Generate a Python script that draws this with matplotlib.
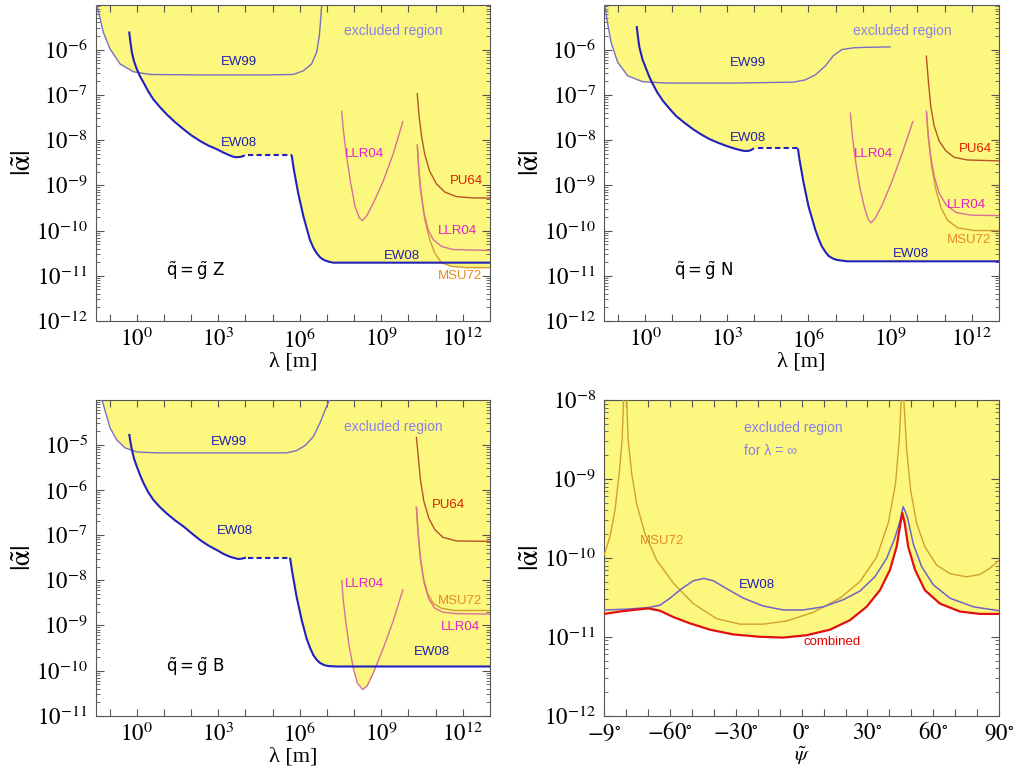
import numpy as np
import matplotlib
matplotlib.use("Agg")
import matplotlib.pyplot as plt
from matplotlib.ticker import FixedLocator, LogLocator, NullLocator, FuncFormatter, NullFormatter

plt.rcParams["mathtext.fontset"] = "stix"
plt.rcParams["font.family"] = ["Liberation Sans", "DejaVu Sans"]

# all curves stored as log10(lambda / m) and log10(|alpha|)

# ---- q = g Z ----
z_ew99_lx = [-1.50, -1.41, -1.23, -0.98, -0.61, -0.12, 0.49, 2.33, 4.78, 5.76, 6.13, 6.43, 6.62, 6.72, 6.78, 6.81]
z_ew99_la = [-4.95, -5.17, -5.62, -5.99, -6.32, -6.49, -6.55, -6.56, -6.56, -6.55, -6.47, -6.32, -6.06, -5.69, -5.25, -4.95]
z_ew08_lo_lx = [-0.28, -0.23, -0.18, -0.10, 0.00, 0.12, 0.25, 0.42, 0.61, 0.85, 1.10, 1.40, 1.72, 2.02, 2.33, 2.63, 2.94, 3.20, 3.43, 3.56, 3.68, 3.83, 3.98]
z_ew08_lo_la = [-5.60, -5.85, -6.06, -6.26, -6.43, -6.59, -6.73, -6.92, -7.10, -7.27, -7.43, -7.60, -7.76, -7.90, -8.02, -8.12, -8.20, -8.28, -8.34, -8.37, -8.38, -8.37, -8.34]
z_ew08_gap_lx = [4.10, 5.70]
z_ew08_gap_la = [-8.33, -8.33]
z_ew08_hi_lx = [5.70, 5.78, 5.94, 6.13, 6.37, 6.50, 6.62, 6.76, 6.92, 7.08, 7.23, 13.0]
z_ew08_hi_la = [-8.33, -8.65, -9.17, -9.68, -10.20, -10.38, -10.50, -10.60, -10.66, -10.69, -10.71, -10.71]
z_llr_bowl_lx = [7.54, 7.60, 7.72, 7.87, 8.03, 8.19, 8.30, 8.46, 8.70, 9.07, 9.44, 9.80]
z_llr_bowl_la = [-7.35, -7.76, -8.35, -8.94, -9.46, -9.72, -9.78, -9.68, -9.40, -8.91, -8.30, -7.58]
z_pu64_lx = [10.32, 10.39, 10.48, 10.60, 10.78, 11.03, 11.34, 11.76, 12.38, 13.0]
z_pu64_la = [-6.96, -7.47, -7.91, -8.32, -8.69, -8.97, -9.15, -9.25, -9.28, -9.28]
z_llr_lx = [10.32, 10.37, 10.44, 10.57, 10.72, 10.91, 11.21, 11.64, 13.0]
z_llr_la = [-8.09, -8.57, -9.09, -9.61, -9.98, -10.20, -10.35, -10.42, -10.44]
z_msu_lx = [10.33, 10.39, 10.48, 10.60, 10.78, 10.97, 11.21, 11.58, 12.13, 13.0]
z_msu_la = [-8.13, -8.72, -9.24, -9.76, -10.20, -10.50, -10.71, -10.79, -10.82, -10.82]

# ---- q = g N ----
n_ew99_lx = [-1.49, -1.41, -1.25, -1.01, -0.64, -0.09, 0.77, 3.23, 5.45, 5.88, 6.25, 6.62, 6.92, 7.23, 7.66, 8.15, 9.02]
n_ew99_la = [-4.95, -5.32, -5.84, -6.28, -6.58, -6.71, -6.74, -6.74, -6.72, -6.67, -6.56, -6.36, -6.13, -6.00, -5.96, -5.95, -5.94]
n_ew08_lo_lx = [-0.31, -0.26, -0.21, -0.10, 0.04, 0.16, 0.28, 0.45, 0.65, 0.90, 1.14, 1.45, 1.76, 2.07, 2.37, 2.68, 2.99, 3.24, 3.48, 3.64, 3.79, 3.90, 4.00]
n_ew08_lo_la = [-5.48, -5.74, -5.95, -6.21, -6.43, -6.61, -6.76, -6.95, -7.13, -7.31, -7.47, -7.62, -7.76, -7.88, -7.98, -8.06, -8.13, -8.18, -8.22, -8.24, -8.24, -8.22, -8.18]
n_ew08_gap_lx = [4.16, 5.61]
n_ew08_gap_la = [-8.18, -8.18]
n_ew08_hi_lx = [5.61, 5.67, 5.82, 6.00, 6.25, 6.37, 6.49, 6.62, 6.74, 6.90, 7.05, 7.42, 13.0]
n_ew08_hi_la = [-8.18, -8.43, -8.94, -9.46, -9.98, -10.18, -10.35, -10.47, -10.56, -10.62, -10.65, -10.68, -10.68]
n_llr_bowl_lx = [7.54, 7.60, 7.72, 7.88, 8.06, 8.20, 8.30, 8.46, 8.71, 9.07, 9.45, 9.84]
n_llr_bowl_la = [-7.39, -7.84, -8.43, -9.02, -9.50, -9.76, -9.83, -9.72, -9.43, -8.91, -8.28, -7.58]
n_pu64_lx = [10.33, 10.41, 10.49, 10.62, 10.80, 11.05, 11.35, 11.84, 13.0]
n_pu64_la = [-6.13, -6.73, -7.24, -7.69, -8.02, -8.24, -8.38, -8.44, -8.46]
n_llr_lx = [10.33, 10.39, 10.49, 10.62, 10.80, 11.05, 11.42, 11.96, 13.0]
n_llr_la = [-7.35, -7.84, -8.35, -8.80, -9.17, -9.43, -9.60, -9.66, -9.67]
n_msu_lx = [10.34, 10.41, 10.52, 10.68, 10.87, 11.11, 11.48, 12.09, 13.0]
n_msu_la = [-7.39, -7.98, -8.57, -9.09, -9.50, -9.77, -9.94, -10.00, -10.00]

# ---- q = g B ----
b_ew99_lx = [-1.29, -1.16, -0.98, -0.74, -0.43, 0.00, 0.74, 5.51, 5.88, 6.19, 6.50, 6.74, 6.96, 7.11]
b_ew99_la = [-3.98, -4.26, -4.63, -4.89, -5.07, -5.16, -5.18, -5.18, -5.13, -5.02, -4.82, -4.52, -4.19, -3.98]
b_ew08_lo_lx = [-0.28, -0.23, -0.18, -0.10, 0.00, 0.12, 0.25, 0.42, 0.61, 0.85, 1.10, 1.40, 1.72, 2.02, 2.33, 2.63, 2.94, 3.20, 3.43, 3.60, 3.74, 3.88, 4.02]
b_ew08_lo_la = [-4.76, -4.95, -5.11, -5.31, -5.48, -5.67, -5.85, -6.05, -6.22, -6.38, -6.52, -6.67, -6.81, -6.96, -7.11, -7.23, -7.33, -7.42, -7.48, -7.51, -7.53, -7.52, -7.50]
b_ew08_gap_lx = [4.10, 5.64]
b_ew08_gap_la = [-7.50, -7.50]
b_ew08_hi_lx = [5.64, 5.72, 5.88, 6.07, 6.25, 6.38, 6.50, 6.62, 6.74, 6.90, 7.05, 7.35, 13.0]
b_ew08_hi_la = [-7.50, -7.81, -8.36, -8.88, -9.29, -9.50, -9.66, -9.76, -9.83, -9.88, -9.90, -9.91, -9.91]
b_llr_bowl_lx = [7.54, 7.60, 7.70, 7.82, 7.97, 8.12, 8.31, 8.48, 8.70, 9.07, 9.44, 9.80]
b_llr_bowl_la = [-7.99, -8.44, -8.95, -9.47, -9.95, -10.28, -10.42, -10.34, -10.06, -9.51, -8.90, -8.20]
b_pu64_lx = [10.29, 10.36, 10.44, 10.57, 10.75, 10.97, 11.27, 11.76, 13.0]
b_pu64_la = [-4.82, -5.26, -5.78, -6.26, -6.63, -6.88, -7.05, -7.13, -7.14]
b_msu_lx = [10.29, 10.34, 10.42, 10.54, 10.70, 10.91, 11.21, 11.70, 13.0]
b_msu_la = [-6.37, -6.88, -7.40, -7.92, -8.29, -8.51, -8.62, -8.67, -8.67]
b_llr_lx = [10.29, 10.36, 10.44, 10.58, 10.75, 10.97, 11.27, 11.76, 13.0]
b_llr_la = [-6.37, -6.96, -7.55, -8.07, -8.42, -8.62, -8.71, -8.74, -8.75]

# ---- lambda = infinity, vs. mixing angle psi [deg] ----
psi_comb = [-90.0, -82.9, -76.8, -69.9, -64.6, -58.5, -50.9, -41.8, -31.2, -19.0, -8.4, 2.3, 12.9, 22.0,
            29.6, 35.7, 40.3, 43.3, 45.1, 45.9, 47.0, 48.6, 51.7, 56.2, 63.1, 72.2, 81.3, 90.0]
la_comb = [-10.71, -10.68, -10.66, -10.64, -10.67, -10.75, -10.83, -10.91, -10.97, -11.00, -11.01, -10.98,
           -10.91, -10.79, -10.62, -10.41, -10.15, -9.86, -9.56, -9.43, -9.56, -9.86, -10.15, -10.41,
           -10.58, -10.68, -10.71, -10.71]
psi_ew08 = [-90.0, -79.8, -69.9, -64.6, -60.0, -54.7, -49.4, -44.6, -40.3, -34.2, -26.6, -17.5, -8.4, 0.7,
            9.9, 19.0, 26.6, 33.4, 38.7, 42.5, 44.8, 46.3, 48.2, 50.9, 54.7, 60.0, 67.6, 78.3, 90.0]
la_ew08 = [-10.66, -10.65, -10.63, -10.60, -10.51, -10.39, -10.29, -10.26, -10.29, -10.39, -10.51, -10.61,
           -10.66, -10.66, -10.62, -10.53, -10.42, -10.24, -10.01, -9.75, -9.54, -9.35, -9.48, -9.82,
           -10.11, -10.34, -10.51, -10.62, -10.67]
psi_msu = [-90.0, -87.4, -85.1, -83.2, -81.9, -81.2, -80.9, -80.1, -79.8, -79.1, -77.5, -75.3, -71.5, -66.1,
           -58.5, -49.4, -38.8, -28.1, -17.5, -6.9, 5.3, 17.5, 26.6, 34.2, 39.5, 42.8, 44.5, 45.4, 45.7,
           46.2, 46.6, 47.9, 49.7, 52.4, 56.2, 61.5, 67.6, 75.2, 81.3, 85.9, 90.0]
la_msu = [-9.96, -9.73, -9.39, -8.93, -8.51, -8.00, -7.60, -7.60, -8.00, -8.51, -8.93, -9.31, -9.69, -10.03,
          -10.32, -10.58, -10.77, -10.84, -10.84, -10.80, -10.69, -10.51, -10.30, -9.99, -9.56, -9.06, -8.51,
          -8.00, -7.60, -7.60, -8.00, -8.63, -9.14, -9.56, -9.86, -10.09, -10.20, -10.24, -10.21, -10.13, -10.03]

YELLOW = "#fcf77e"
C_EW08 = "#2222bb"
C_EW99 = "#7a6fc0"
C_LLR = "#d8709a"
C_PU64 = "#b8522a"
C_MSU = "#d2a030"
T_EXCL = "#8a80ea"
T_BLUE = "#2020b0"
T_MAG = "#e020d0"
T_RED = "#e02000"
T_ORANGE = "#e88a20"
SPINE = "#555555"


def p(v):
    return 10.0 ** np.asarray(v)


def curve(ax, lx, la, color, lw=1.0, **kw):
    ax.plot(p(lx), p(la), color=color, lw=lw, zorder=3, solid_capstyle="butt", **kw)


def shade(ax, lx, la):
    ax.fill_between(p(lx), p(la), 1.0, color=YELLOW, lw=0, zorder=1)


def label(ax, lx, la, s, color, size=9.5, ha="center"):
    ax.text(10.0 ** lx, 10.0 ** la, s, color=color, fontsize=size, ha=ha, va="center", zorder=5)


def style_log_y(ax, lo, hi):
    ax.set_yscale("log")
    ax.set_ylim(10.0 ** lo, 10.0 ** hi)
    ax.yaxis.set_major_locator(LogLocator(base=10, numticks=30))
    ax.yaxis.set_minor_locator(LogLocator(base=10, subs=np.arange(2, 10), numticks=30))
    ax.yaxis.set_major_formatter(FuncFormatter(lambda v, pos: r"$10^{%d}$" % round(np.log10(v))))
    ax.yaxis.set_minor_formatter(NullFormatter())
    ax.text(-0.182, 0.5, r"$|\tilde{\mathrm{\alpha}}|$", transform=ax.transAxes, rotation=90,
            ha="center", va="center", fontsize=20)
    for s in ax.spines.values():
        s.set_color(SPINE)
    ax.tick_params(which="both", direction="in", top=True, right=True, color=SPINE, labelsize=16.5)
    ax.tick_params(axis="y", which="major", length=6, pad=6)
    ax.tick_params(axis="y", which="minor", length=3)


def style_lambda(ax, lo, hi):
    ax.set_xscale("log")
    ax.set_xlim(10 ** -1.5, 1e13)
    ax.xaxis.set_major_locator(FixedLocator(10.0 ** np.arange(-1, 13)))
    ax.xaxis.set_minor_locator(NullLocator())
    ax.xaxis.set_major_formatter(FuncFormatter(
        lambda v, pos: r"$10^{%d}$" % round(np.log10(v)) if round(np.log10(v)) % 3 == 0 else ""))
    style_log_y(ax, lo, hi)
    ax.tick_params(axis="x", which="major", length=5, pad=5)
    ax.text(0.5, -0.13, "λ [m]", transform=ax.transAxes, ha="center", va="center",
            fontsize=16, family="Liberation Serif")


def draw_panel(ax, ew99, ew08_lo, ew08_gap, ew08_hi, bowl, pu64, llr, msu):
    shade(ax, *ew99)
    shade(ax, np.concatenate([ew08_lo[0], ew08_gap[0], ew08_hi[0]]),
          np.concatenate([ew08_lo[1], ew08_gap[1], ew08_hi[1]]))
    for c in (bowl, pu64, llr, msu):
        shade(ax, *c)
    curve(ax, *ew99, C_EW99, lw=1.0)
    curve(ax, *bowl, C_LLR, lw=1.0)
    curve(ax, *pu64, C_PU64, lw=1.0)
    curve(ax, *msu, C_MSU, lw=1.0)
    curve(ax, *llr, C_LLR, lw=1.0)
    curve(ax, *ew08_lo, C_EW08, lw=1.5)
    curve(ax, *ew08_gap, C_EW08, lw=1.5, ls=(0, (2.5, 1.6)))
    curve(ax, *ew08_hi, C_EW08, lw=1.5)


fig = plt.figure(figsize=(10.17, 7.73), dpi=100)
ax1 = fig.add_axes([0.0944, 0.5847, 0.3874, 0.4088])
ax2 = fig.add_axes([0.5942, 0.5847, 0.3881, 0.4088])
ax3 = fig.add_axes([0.0944, 0.0741, 0.3874, 0.4084])
ax4 = fig.add_axes([0.5942, 0.0741, 0.3881, 0.4084])

# top left: q = g Z
draw_panel(ax1, (z_ew99_lx, z_ew99_la), (z_ew08_lo_lx, z_ew08_lo_la), (z_ew08_gap_lx, z_ew08_gap_la),
           (z_ew08_hi_lx, z_ew08_hi_la), (z_llr_bowl_lx, z_llr_bowl_la), (z_pu64_lx, z_pu64_la),
           (z_llr_lx, z_llr_la), (z_msu_lx, z_msu_la))
style_lambda(ax1, -12, -5.015)
label(ax1, 9.44, -5.59, "excluded region", T_EXCL, size=10)
label(ax1, 3.77, -6.28, "EW99", T_BLUE)
label(ax1, 3.77, -8.06, "EW08", T_BLUE)
label(ax1, 8.39, -8.30, "LLR04", T_MAG)
label(ax1, 12.13, -8.91, "PU64", T_RED)
label(ax1, 11.79, -10.0, "LLR04", T_MAG)
label(ax1, 9.77, -10.56, "EW08", T_BLUE)
label(ax1, 11.89, -11.0, "MSU72", T_ORANGE)
ax1.text(10 ** 2.14, 10 ** -10.9, r"$\tilde{\mathrm{q}} = \tilde{\mathrm{g}}\;\mathrm{Z}$", fontsize=12,
         math_fontfamily="dejavusans", ha="center", va="center", zorder=5)

# top right: q = g N
draw_panel(ax2, (n_ew99_lx, n_ew99_la), (n_ew08_lo_lx, n_ew08_lo_la), (n_ew08_gap_lx, n_ew08_gap_la),
           (n_ew08_hi_lx, n_ew08_hi_la), (n_llr_bowl_lx, n_llr_bowl_la), (n_pu64_lx, n_pu64_la),
           (n_llr_lx, n_llr_la), (n_msu_lx, n_msu_la))
style_lambda(ax2, -12, -5.015)
label(ax2, 9.45, -5.59, "excluded region", T_EXCL, size=10)
label(ax2, 3.76, -6.30, "EW99", T_BLUE)
label(ax2, 3.76, -7.95, "EW08", T_BLUE)
label(ax2, 8.40, -8.30, "LLR04", T_MAG)
label(ax2, 12.15, -8.20, "PU64", T_RED)
label(ax2, 11.82, -9.43, "LLR04", T_MAG)
label(ax2, 11.91, -10.20, "MSU72", T_ORANGE)
label(ax2, 9.78, -10.51, "EW08", T_BLUE)
ax2.text(10 ** 2.13, 10 ** -10.9, r"$\tilde{\mathrm{q}} = \tilde{\mathrm{g}}\;\mathrm{N}$", fontsize=12,
         math_fontfamily="dejavusans", ha="center", va="center", zorder=5)

# bottom left: q = g B
draw_panel(ax3, (b_ew99_lx, b_ew99_la), (b_ew08_lo_lx, b_ew08_lo_la), (b_ew08_gap_lx, b_ew08_gap_la),
           (b_ew08_hi_lx, b_ew08_hi_la), (b_llr_bowl_lx, b_llr_bowl_la), (b_pu64_lx, b_pu64_la),
           (b_llr_lx, b_llr_la), (b_msu_lx, b_msu_la))
style_lambda(ax3, -11, -4.01)
label(ax3, 9.44, -4.61, "excluded region", T_EXCL, size=10)
label(ax3, 3.39, -4.93, "EW99", T_BLUE)
label(ax3, 3.62, -6.92, "EW08", T_BLUE)
label(ax3, 8.39, -8.08, "LLR04", T_MAG)
label(ax3, 11.46, -6.33, "PU64", T_RED)
label(ax3, 11.89, -8.45, "MSU72", T_ORANGE)
label(ax3, 11.91, -9.03, "LLR04", T_MAG)
label(ax3, 10.88, -9.60, "EW08", T_BLUE)
ax3.text(10 ** 2.14, 10 ** -9.92, r"$\tilde{\mathrm{q}} = \tilde{\mathrm{g}}\;\mathrm{B}$", fontsize=12,
         math_fontfamily="dejavusans", ha="center", va="center", zorder=5)

# bottom right: infinite range, as a function of the mixing angle
ax4.fill_between(psi_comb, p(la_comb), 1.0, color=YELLOW, lw=0, zorder=1)
ax4.plot(psi_msu, p(la_msu), color=C_MSU, lw=1.0, zorder=3)
ax4.plot(psi_ew08, p(la_ew08), color="#6f62c8", lw=1.1, zorder=3)
ax4.plot(psi_comb, p(la_comb), color="#e01010", lw=1.6, zorder=4)
ax4.set_xlim(-90, 90)
ax4.xaxis.set_major_locator(FixedLocator(np.arange(-90, 91, 10)))
ax4.xaxis.set_major_formatter(FuncFormatter(
    lambda v, pos: ("$-9^{\\circ}$" if round(v) == -90 else "$%d^{\\circ}$" % round(v))
    if round(v) % 30 == 0 else ""))
style_log_y(ax4, -12, -8)
ax4.tick_params(axis="x", which="major", length=5, pad=4)
ax4.text(0.5, -0.128, r"$\tilde{\psi}$", transform=ax4.transAxes, ha="center", va="center", fontsize=15)
ax4.text(-26.2, 10 ** -8.35, "excluded region", color=T_EXCL, fontsize=10, ha="left", va="center", zorder=5)
ax4.text(-26.2, 10 ** -8.65, "for λ = ∞", color=T_EXCL, fontsize=10, ha="left", va="center", zorder=5)
ax4.text(-63.9, 10 ** -9.78, "MSU72", color=T_ORANGE, fontsize=9.5, ha="center", va="center", zorder=5)
ax4.text(-20.5, 10 ** -10.34, "EW08", color=T_BLUE, fontsize=9.5, ha="center", va="center", zorder=5)
ax4.text(14.0, 10 ** -11.06, "combined", color="#e00000", fontsize=9.5, ha="center", va="center", zorder=5)

fig.savefig("out.png", dpi=100)
